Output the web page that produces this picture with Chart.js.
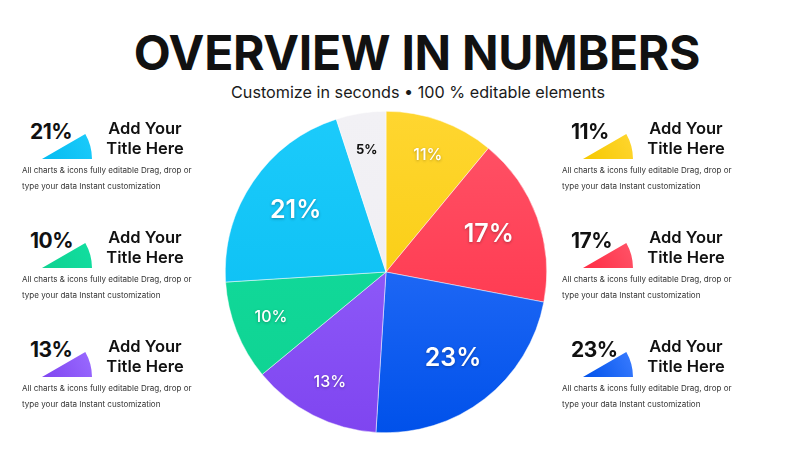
<!DOCTYPE html>
<html>
<head>
<meta charset="utf-8">
<script src="https://cdn.jsdelivr.net/npm/chart.js@4.4.1/dist/chart.umd.min.js"></script>
<style>
  html, body { margin: 0; padding: 0; background: #fff; }
  body { width: 800px; height: 450px; position: relative; overflow: hidden; font-family: Inter, "Noto Sans", sans-serif; color: #111; }
  .title { position: absolute; left: 17px; width: 800px; top: 24px; text-align: center; font-size: 48px; font-weight: 700; letter-spacing: -0.3px; line-height: 58px; }
  .sub { position: absolute; left: 0; width: 836px; top: 82px; text-align: center; font-size: 16.2px; font-weight: 400; color: #1a1a1a; }
  #pie { position: absolute; left: 225px; top: 111px; }
  .item { position: absolute; width: 220px; height: 100px; }
  .pct { position: absolute; font-size: 21px; font-weight: 700; letter-spacing: -0.5px; line-height: 24px; }
  .ttl { position: absolute; width: 110px; text-align: center; font-size: 16.5px; font-weight: 600; line-height: 20px; }
  .desc { position: absolute; font-size: 8.05px; line-height: 15.5px; color: #333; white-space: nowrap; }
  .icon { position: absolute; }
</style>
</head>
<body>
<div class="title">OVERVIEW IN NUMBERS</div>
<div class="sub">Customize in seconds &bull; 100 % editable elements</div>
<canvas id="pie" width="322" height="322"></canvas>
<div id="items"></div>
<script>
// data
const labels = ['Yellow', 'Red', 'Blue', 'Purple', 'Green', 'Cyan', 'Gray'];
const values = [11, 17, 23, 13, 10, 21, 5];
const leftSlots = [5, 4, 3];   // 21%, 10%, 13%
const rightSlots = [0, 1, 2];  // 11%, 17%, 23%
const itemTitle = 'Add Your<br>Title Here';
const itemText = ['All charts & icons fully editable Drag, drop or', 'type your data Instant customization'];

// colours: [top, bottom]
const shades = [
  ['#ffd630', '#f5c800'],
  ['#ff5468', '#ff2c44'],
  ['#3a7cff', '#0051ea'],
  ['#9a6bff', '#7f45f0'],
  ['#12dea0', '#0fd291'],
  ['#1ccbfb', '#05bbf0'],
  ['#f2f1f5', '#eeedf2']
];

function gradFill(ctx) {
  const chart = ctx.chart;
  const area = chart.chartArea;
  if (!area) return shades[ctx.dataIndex][0];
  const c = shades[ctx.dataIndex];
  const g = chart.ctx.createLinearGradient(0, area.top, 0, area.bottom);
  g.addColorStop(0, c[0]);
  g.addColorStop(1, c[1]);
  return g;
}

const sliceLabels = {
  id: 'sliceLabels',
  afterDatasetsDraw(chart) {
    const ctx = chart.ctx;
    const arcs = chart.getDatasetMeta(0).data;
    arcs.forEach((arc, i) => {
      const p = arc.getProps(['x', 'y', 'startAngle', 'endAngle', 'outerRadius'], true);
      const v = values[i];
      const mid = (p.startAngle + p.endAngle) / 2;
      const r = p.outerRadius * (v >= 17 ? 0.68 : 0.77);
      const x = p.x + Math.cos(mid) * r;
      const y = p.y + Math.sin(mid) * r;
      ctx.save();
      if (v >= 17) ctx.font = '600 25px Inter, sans-serif';
      else if (v >= 10) ctx.font = '500 16px Inter, sans-serif';
      else ctx.font = '700 13px Inter, sans-serif';
      ctx.textAlign = 'center';
      ctx.textBaseline = 'middle';
      if (v >= 10) {
        ctx.fillStyle = '#fff';
        ctx.shadowColor = 'rgba(0,0,0,0.3)';
        ctx.shadowBlur = 3;
        ctx.shadowOffsetY = 1;
      } else {
        ctx.fillStyle = '#111';
      }
      ctx.fillText(v + '%', x, y);
      ctx.restore();
    });
  }
};

new Chart(document.getElementById('pie'), {
  type: 'pie',
  data: {
    labels: labels,
    datasets: [{
      data: values,
      backgroundColor: gradFill,
      borderColor: 'rgba(255,255,255,0.8)',
      borderWidth: 0.6
    }]
  },
  options: {
    responsive: false,
    animation: false,
    layout: { padding: 0 },
    plugins: { legend: { display: false }, tooltip: { enabled: false } }
  },
  plugins: [sliceLabels]
});

// side items
const holder = document.getElementById('items');
function addItem(slot, left, top, pctX, iconX, ttlX, descX) {
  const el = document.createElement('div');
  el.className = 'item';
  el.style.left = left + 'px';
  el.style.top = top + 'px';
  el.innerHTML =
    '<div class="pct" style="left:' + pctX + 'px;top:0px">' + values[slot] + '%</div>' +
    '<canvas class="icon" width="50" height="25" style="left:' + iconX + 'px;top:14px"></canvas>' +
    '<div class="ttl" style="left:' + ttlX + 'px;top:-2px">' + itemTitle + '</div>' +
    '<div class="desc" style="left:' + descX + 'px;top:43px">' + itemText.join('<br>') + '</div>';
  holder.appendChild(el);
  new Chart(el.querySelector('canvas'), {
    type: 'pie',
    data: {
      labels: [labels[slot]],
      datasets: [{
        data: [values[slot]],
        backgroundColor: (ctx) => {
          const area = ctx.chart.chartArea;
          const c = shades[slot];
          if (!area) return c[0];
          const g = ctx.chart.ctx.createLinearGradient(area.right, area.top, area.left, area.bottom);
          g.addColorStop(0, c[0]);
          g.addColorStop(1, c[1]);
          return g;
        },
        borderWidth: 0
      }]
    },
    options: {
      responsive: false,
      animation: false,
      rotation: 60,
      circumference: 30,
      layout: { padding: 0 },
      plugins: { legend: { display: false }, tooltip: { enabled: false } }
    }
  });
}

leftSlots.forEach((s, i) => addItem(s, 0, 120 + i * 109, 30, 42, 90, 22));
rightSlots.forEach((s, i) => addItem(s, 540, 120 + i * 109, 31, 43, 91, 22));
</script>
</body>
</html>
